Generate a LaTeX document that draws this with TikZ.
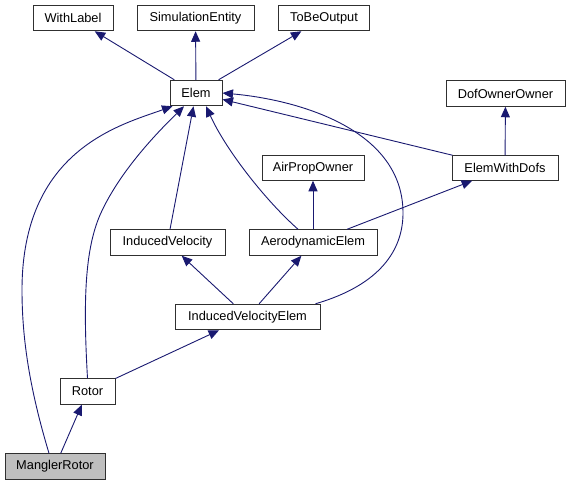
\documentclass[tikz,border=0pt]{standalone}
\usepackage{fontspec}
\setmainfont{Liberation Sans}
\usetikzlibrary{arrows.meta}
\definecolor{edgeblue}{HTML}{191970}
\definecolor{boxline}{HTML}{303030}
\definecolor{grayfill}{HTML}{BFBFBF}
\tikzset{
  cls/.style={draw=boxline, line width=1pt, fill=white, inner sep=0pt,
    font=\fontsize{12.8}{14}\selectfont, minimum height=25.5pt},
  edge/.style={draw=edgeblue, line width=0.9pt,
    -{Triangle[length=10.5pt,width=9pt]}},
}
\begin{document}
\begin{tikzpicture}[x=1pt,y=-1pt]
\useasboundingbox (0,0) rectangle (569,485);
% nodes
\node[cls, minimum width=80pt]  (WithLabel) at (73,18) {WithLabel};
\node[cls, minimum width=117pt] (SimEnt) at (195.5,18) {SimulationEntity};
\node[cls, minimum width=91pt]  (ToBe) at (324,18) {ToBeOutput};
\node[cls, minimum width=52pt]  (Elem) at (196,93) {Elem};
\node[cls, minimum width=119pt] (DofOO) at (505.5,93.5) {DofOwnerOwner};
\node[cls, minimum width=102pt, minimum height=24.5pt] (AirProp) at (313,168) {AirPropOwner};
\node[cls, minimum width=106pt, minimum height=24.5pt] (EWD) at (505,168) {ElemWithDofs};
\node[cls, minimum width=128pt] (Aero) at (313,242.5) {AerodynamicElem};
\node[cls, minimum width=115pt] (IndVel) at (167.5,242.5) {InducedVelocity};
\node[cls, minimum width=145pt] (IVE) at (247.5,317) {InducedVelocityElem};
\node[cls, minimum width=55pt]  (Rotor) at (87.5,391.5) {Rotor};
\node[cls, minimum width=100pt, fill=grayfill] (Mangler) at (55,466.5) {ManglerRotor};
% straight edges
\draw[edge] (Elem) -- (WithLabel);
\draw[edge] (Elem) -- (SimEnt);
\draw[edge] (Elem) -- (ToBe);
\draw[edge] (EWD) -- (DofOO);
\draw[edge] (EWD) -- (Elem);
\draw[edge] (Aero) -- (AirProp);
\draw[edge] (Aero) -- (EWD);
\draw[edge] (IndVel) -- (Elem);
\draw[edge] (IVE) -- (IndVel);
\draw[edge] (IVE) -- (Aero);
\draw[edge] (Rotor) -- (IVE);
\draw[edge] (Mangler) -- (Rotor);
% curved edges
\draw[edge] ([xshift=-15pt]Aero.north) .. controls (265,200) and (226,150) .. ([xshift=10pt]Elem.south);
\draw[edge] ([xshift=-5pt]IVE.north east) .. controls (380,285) and (403,250) .. (403,213)
  .. controls (403,130) and (300,100) .. (Elem.east);
\draw[edge] (Rotor.north) .. controls (83,300) and (85,250) .. (100,215)
  .. controls (120,170) and (160,130) .. ([xshift=-12pt]Elem.south);
\draw[edge] ([xshift=-6pt]Mangler.north) .. controls (30,390) and (22,340) .. (22,290)
  .. controls (22,150) and (120,125) .. ([xshift=3pt]Elem.south west);
\end{tikzpicture}
\end{document}
